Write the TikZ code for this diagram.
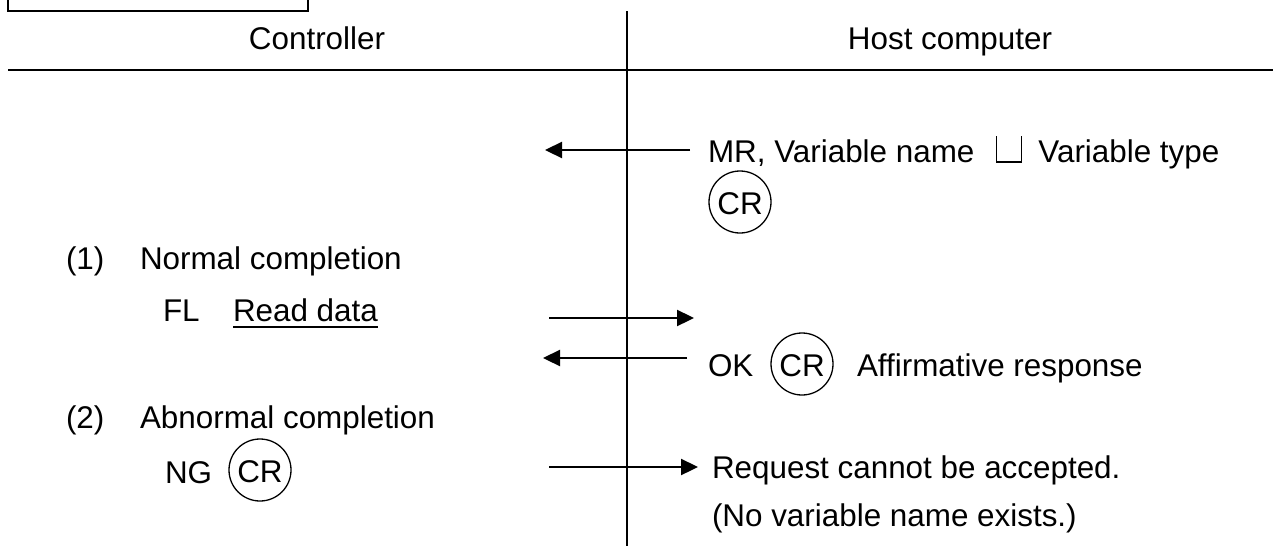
\documentclass[tikz,border=0pt]{standalone}
\usepackage{fontspec}
\setmainfont{Liberation Sans}
\usetikzlibrary{arrows.meta}
\begin{document}
\begin{tikzpicture}[x=1pt,y=-1pt,
  every node/.style={inner sep=0pt, outer sep=0pt, font=\fontsize{31.4}{37}\selectfont},
  rule/.style={line width=1.3pt},
  msg/.style={line width=2.3pt, -{Triangle[length=17pt,width=16pt]}},
  crmark/.style={draw, circle, line width=1.3pt, minimum size=62pt, inner sep=0pt,
    text height=24pt, text depth=0pt},
  lbl/.style={anchor=base west},
  head/.style={anchor=base}]
\useasboundingbox (0,0) rectangle (1273,546);

% frame stub at the top and the table rules
\draw[rule] (8,0) -- (8,11) -- (308,11) -- (308,0);
\draw[line width=1.5pt] (8,70) -- (1273,70);
\draw[line width=1.2pt] (627,11) -- (627,546);

% column headings
\node[head] (hctl) at (317,49) {Controller};
\node[head] (hhost) at (950,49) {Host computer};

% request from the host
\node[lbl] (mr) at (708,162) {MR, Variable name};
\coordinate (sp) at ([xshift=22pt]mr.base east);
\draw[line width=1.1pt] ([yshift=26pt]sp) -- (sp) -- ++(25,0) -- ++(0,-26);
\node[lbl] (vt) at ([xshift=42pt]sp) {Variable type};
\node[crmark] (cr1) at (740,202) {CR};

% normal completion
\node[lbl] (n1) at (66,269) {(1)};
\node[lbl] (nc) at (140,269) {Normal completion};
\node[lbl] (fl) at (163,321) {FL};
\node[lbl] (rd) at (233,321) {Read data};
\draw[line width=2.3pt] ([yshift=-6pt]rd.base west) -- ([yshift=-6pt]rd.base east);
\node[lbl] (ok) at (708,376) {OK};
\node[crmark] (cr2) at (802,364) {CR};
\node[lbl] (aff) at (857,376) {Affirmative response};

% abnormal completion
\node[lbl] (n2) at (66,428) {(2)};
\node[lbl] (ac) at (140,428) {Abnormal completion};
\node[lbl] (ng) at (165,483) {NG};
\node[crmark] (cr3) at (260,470) {CR};
\node[lbl] (rq) at (712,478) {Request cannot be accepted.};
\node[lbl] (nv) at (712,526) {(No variable name exists.)};

% message arrows
\coordinate (a1s) at (690,150); \coordinate (a1e) at (545,150);
\coordinate (a2s) at (549,318); \coordinate (a2e) at (694,318);
\coordinate (a3s) at (687,358); \coordinate (a3e) at (543,358);
\coordinate (a4s) at (549,467); \coordinate (a4e) at (698,467);
\draw[msg] (a1s) -- (a1e);
\draw[msg] (a2s) -- (a2e);
\draw[msg] (a3s) -- (a3e);
\draw[msg] (a4s) -- (a4e);
\end{tikzpicture}
\end{document}
